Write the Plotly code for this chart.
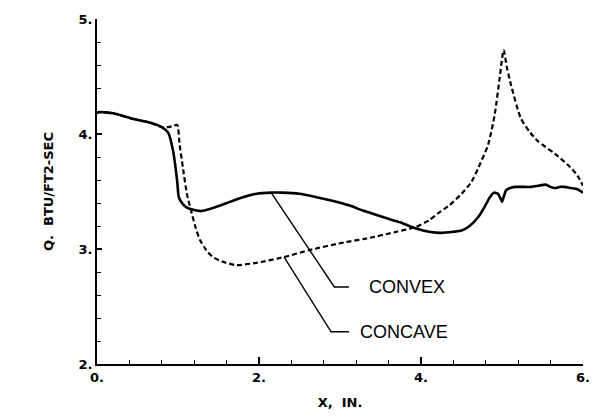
import plotly.graph_objects as go

# CONVEX (solid) curve
convex_x = [0.0, 0.02, 0.2, 0.45, 0.65, 0.80, 0.88, 0.94, 0.99, 1.01, 1.06, 1.11, 1.20, 1.29,
            1.45, 1.64, 1.80, 1.97, 2.15, 2.29, 2.50, 2.71, 2.90, 3.11, 3.30, 3.52, 3.75, 3.93,
            4.10, 4.25, 4.40, 4.50, 4.60, 4.71, 4.78, 4.85, 4.90, 4.95, 4.98, 5.00, 5.02, 5.05,
            5.10, 5.16, 5.25, 5.36, 5.45, 5.54, 5.60, 5.65, 5.72, 5.77, 5.85, 5.93, 6.0]
convex_y = [4.18, 4.19, 4.18, 4.13, 4.10, 4.06, 4.01, 3.85, 3.59, 3.45, 3.39, 3.36, 3.34, 3.33,
            3.36, 3.41, 3.45, 3.48, 3.49, 3.49, 3.48, 3.45, 3.42, 3.38, 3.33, 3.28, 3.23, 3.18,
            3.15, 3.14, 3.15, 3.16, 3.20, 3.28, 3.36, 3.45, 3.49, 3.48, 3.44, 3.41, 3.45, 3.51,
            3.53, 3.54, 3.54, 3.54, 3.55, 3.56, 3.54, 3.53, 3.54, 3.54, 3.53, 3.52, 3.49]

# CONCAVE (dashed) curve
concave_x = [0.0, 0.02, 0.2, 0.45, 0.65, 0.80, 0.88, 0.94, 0.99, 1.02, 1.06, 1.11, 1.17, 1.22,
             1.27, 1.35, 1.43, 1.55, 1.72, 1.97, 2.31, 2.62, 3.07, 3.32, 3.70, 3.93, 4.10, 4.21,
             4.35, 4.50, 4.62, 4.71, 4.83, 4.91, 4.97, 5.02, 5.06, 5.11, 5.23, 5.34, 5.44, 5.65,
             5.83, 5.93, 6.0]
concave_y = [4.18, 4.19, 4.18, 4.13, 4.10, 4.06, 4.06, 4.07, 4.08, 3.91, 3.71, 3.48, 3.31, 3.18,
             3.08, 2.99, 2.93, 2.89, 2.86, 2.88, 2.93, 2.99, 3.06, 3.09, 3.15, 3.19, 3.25, 3.31,
             3.38, 3.48, 3.58, 3.71, 3.91, 4.17, 4.48, 4.73, 4.58, 4.43, 4.14, 4.02, 3.94, 3.83,
             3.72, 3.64, 3.55]

# Leader lines for labels
convex_lead_x = [2.15, 2.93, 3.11]
convex_lead_y = [3.49, 2.67, 2.67]
concave_lead_x = [2.31, 2.89, 3.11]
concave_lead_y = [2.93, 2.28, 2.28]

labels = ["CONVEX", "CONCAVE"]
label_x = [3.33, 3.22]
label_y = [2.67, 2.28]

x_tickvals = [0, 2, 4, 6]
x_ticktext = ["0.", "2.", "4.", "6."]
y_tickvals = [2, 3, 4, 5]
y_ticktext = ["2.", "3.", "4.", "5."]

fig = go.Figure()
fig.add_trace(go.Scatter(x=convex_x, y=convex_y, mode="lines",
                         line=dict(color="black", width=2.6, shape="spline", smoothing=0.6)))
fig.add_trace(go.Scatter(x=concave_x, y=concave_y, mode="lines",
                         line=dict(color="black", width=2.2, dash="5px,3px", shape="spline", smoothing=0.6)))
fig.add_trace(go.Scatter(x=convex_lead_x, y=convex_lead_y, mode="lines",
                         line=dict(color="black", width=1.4)))
fig.add_trace(go.Scatter(x=concave_lead_x, y=concave_lead_y, mode="lines",
                         line=dict(color="black", width=1.4)))

for t, lx, ly in zip(labels, label_x, label_y):
    fig.add_annotation(x=lx, y=ly, text=t, showarrow=False, xanchor="left", yanchor="middle",
                       font=dict(family="Liberation Sans", size=18, color="black"))

axis_font = dict(family="DejaVu Sans", size=13, color="black", weight="bold")

fig.update_layout(
    width=602, height=420,
    margin=dict(l=97, r=16, t=17, b=55),
    paper_bgcolor="white", plot_bgcolor="white",
    showlegend=False,
    xaxis=dict(range=[0, 6], tickvals=x_tickvals, ticktext=x_ticktext,
               showgrid=False, zeroline=False, showline=True, linecolor="black", linewidth=2,
               ticks="inside", ticklen=7, tickwidth=1.5, tickcolor="black",
               minor=dict(dtick=0.4, tick0=0, ticks="inside", ticklen=4, tickwidth=1.2, tickcolor="black"),
               tickfont=axis_font,
               title=dict(text="X,  IN.", font=dict(family="DejaVu Sans", size=13, color="black", weight="bold"),
                          standoff=14)),
    yaxis=dict(range=[2, 5], tickvals=y_tickvals, ticktext=y_ticktext,
               showgrid=False, zeroline=False, showline=True, linecolor="black", linewidth=2,
               ticks="inside", ticklen=5, tickwidth=1.5, tickcolor="black",
               minor=dict(dtick=0.2, tick0=2, ticks="inside", ticklen=4, tickwidth=1.2, tickcolor="black"),
               tickfont=axis_font,
               title=dict(text="Q.  BTU/FT2-SEC", font=dict(family="DejaVu Sans", size=13, color="black", weight="bold"),
                          standoff=22)),
)

fig.write_html("out.html")
